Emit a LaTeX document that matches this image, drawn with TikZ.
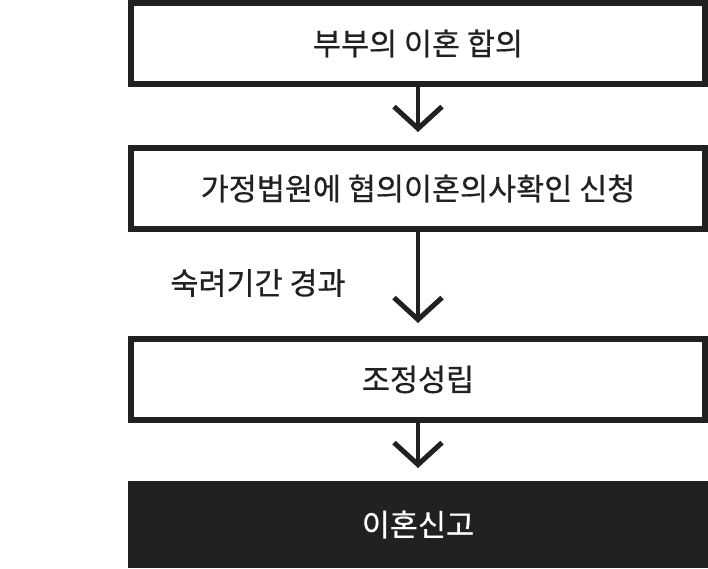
\documentclass[tikz,border=0pt]{standalone}
\usepackage{fontspec}
\setmainfont{Noto Sans CJK KR}
\newfontfamily\krfont{Noto Sans CJK KR}[FakeBold=0.6]
\usetikzlibrary{arrows.meta}
\definecolor{ink}{HTML}{212121}
\tikzset{
  flowbox/.style={draw=ink, line width=6pt, minimum width=574pt, minimum height=81pt,
    inner sep=0pt, text=ink, font=\krfont\fontsize{30.5}{36}\selectfont},
  darkbox/.style={flowbox, fill=ink, text=white},
  flowarrow/.style={draw=ink, line width=4.5pt,
    -{Straight Barb[length=22pt, width=48pt, line width=5pt]}, shorten >=13pt},
  steplabel/.style={text=ink, inner sep=0pt, font=\krfont\fontsize{30.5}{36}\selectfont}
}
\begin{document}
\begin{tikzpicture}[x=1pt,y=1pt]
\useasboundingbox (0,0) rectangle (708,568);
\node[flowbox] (b1) at (418,524.5) {부부의 이혼 합의};
\node[flowbox] (b2) at (418,379.5) {가정법원에 협의이혼의사확인 신청};
\node[flowbox] (b3) at (418,188.5) {조정성립};
\node[darkbox] (b4) at (418,43.5) {이혼신고};
\node[steplabel] (lbl) at (258,285) {숙려기간 경과};
\draw[flowarrow] (b1.south) -- (b2.north);
\draw[flowarrow] (b2.south) -- (b3.north);
\draw[flowarrow] (b3.south) -- (b4.north);
\end{tikzpicture}
\end{document}
